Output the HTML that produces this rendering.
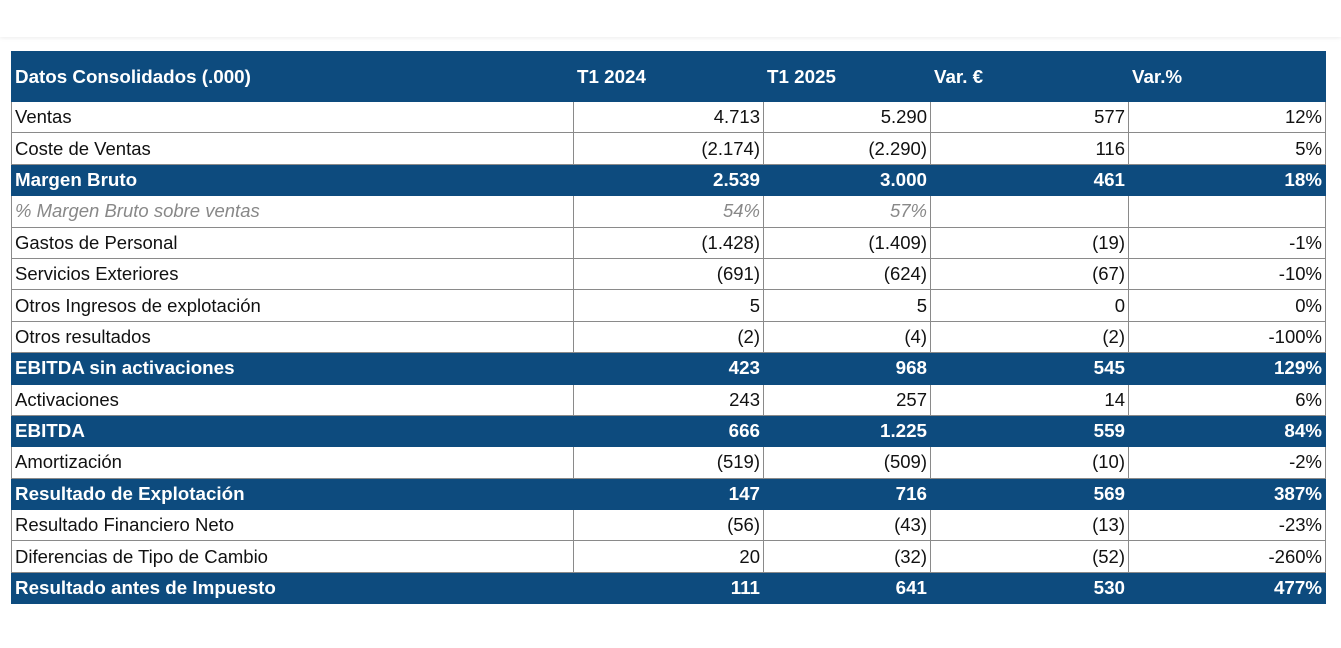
<!DOCTYPE html>
<html><head><meta charset="utf-8"><style>
body{margin:0;width:1341px;height:648px;background:#fff;position:relative;overflow:hidden;font-family:"Liberation Sans",Arial,sans-serif;}
.top{position:absolute;left:0;top:0;width:1341px;height:37px;background:#fff;box-shadow:0 1px 4px rgba(0,0,0,0.08);}
table{position:absolute;left:11px;top:51px;border-collapse:collapse;table-layout:fixed;width:1314px;}
td{border:1px solid #8a8a8a;padding:0 3px;font-size:18.5px;color:#111;height:30.4px;line-height:30px;white-space:nowrap;overflow:hidden;text-align:right;}
td:first-child{text-align:left;padding-left:3px;}
tr.h td{background:#0d4b7e;color:#fff;font-weight:bold;border-color:#0d4b7e;font-size:18.8px;}
tr.hd td{height:49px;line-height:47px;text-align:left;}
tr.g td{color:#888;font-style:italic;}
</style></head><body>
<div class="top"></div>
<table>
<colgroup><col style="width:562px"><col style="width:190px"><col style="width:167px"><col style="width:198px"><col style="width:197px"></colgroup>
<tr class="h hd"><td>Datos Consolidados (.000)</td><td>T1 2024</td><td>T1 2025</td><td>Var. €</td><td>Var.%</td></tr>
<tr><td>Ventas</td><td>4.713</td><td>5.290</td><td>577</td><td>12%</td></tr>
<tr><td>Coste de Ventas</td><td>(2.174)</td><td>(2.290)</td><td>116</td><td>5%</td></tr>
<tr class="h"><td>Margen Bruto</td><td>2.539</td><td>3.000</td><td>461</td><td>18%</td></tr>
<tr class="g"><td>% Margen Bruto sobre ventas</td><td>54%</td><td>57%</td><td></td><td></td></tr>
<tr><td>Gastos de Personal</td><td>(1.428)</td><td>(1.409)</td><td>(19)</td><td>-1%</td></tr>
<tr><td>Servicios Exteriores</td><td>(691)</td><td>(624)</td><td>(67)</td><td>-10%</td></tr>
<tr><td>Otros Ingresos de explotación</td><td>5</td><td>5</td><td>0</td><td>0%</td></tr>
<tr><td>Otros resultados</td><td>(2)</td><td>(4)</td><td>(2)</td><td>-100%</td></tr>
<tr class="h"><td>EBITDA sin activaciones</td><td>423</td><td>968</td><td>545</td><td>129%</td></tr>
<tr><td>Activaciones</td><td>243</td><td>257</td><td>14</td><td>6%</td></tr>
<tr class="h"><td>EBITDA</td><td>666</td><td>1.225</td><td>559</td><td>84%</td></tr>
<tr><td>Amortización</td><td>(519)</td><td>(509)</td><td>(10)</td><td>-2%</td></tr>
<tr class="h"><td>Resultado de Explotación</td><td>147</td><td>716</td><td>569</td><td>387%</td></tr>
<tr><td>Resultado Financiero Neto</td><td>(56)</td><td>(43)</td><td>(13)</td><td>-23%</td></tr>
<tr><td>Diferencias de Tipo de Cambio</td><td>20</td><td>(32)</td><td>(52)</td><td>-260%</td></tr>
<tr class="h"><td>Resultado antes de Impuesto</td><td>111</td><td>641</td><td>530</td><td>477%</td></tr>
</table>
</body></html>
